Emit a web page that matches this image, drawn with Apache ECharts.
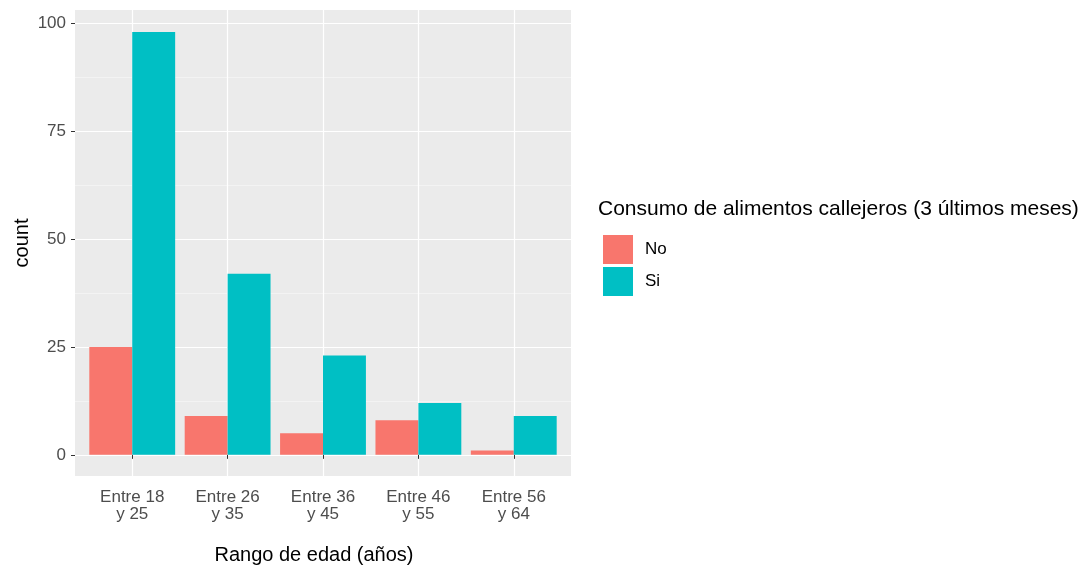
<!DOCTYPE html>
<html>
<head>
<meta charset="utf-8">
<script src="https://cdn.jsdelivr.net/npm/echarts@6/dist/echarts.min.js"></script>
<style>
html,body{margin:0;padding:0;background:#fff;}
#chart{width:1086px;height:570px;}
</style>
</head>
<body>
<div id="chart"></div>
<script>
const categories = ["Entre 18\ny 25", "Entre 26\ny 35", "Entre 36\ny 45", "Entre 46\ny 55", "Entre 56\ny 64"];
const seriesNames = ["No", "Si"];
const valuesNo = [25, 9, 5, 8, 1];
const valuesSi = [98, 42, 23, 12, 9];
const yTicks = [0, 25, 50, 75, 100];
const yMinorTicks = [12.5, 37.5, 62.5, 87.5];
const colors = ["#F8766D", "#00BFC4"];

const xPositions = categories.map((c, i) => i + 1);
const FONT = "Liberation Sans, Arial, sans-serif";

function makeRender(offset) {
  return function (params, api) {
    const x = api.value(0), y = api.value(1);
    const p0 = api.coord([x + offset, y]);
    const p1 = api.coord([x + offset + 0.45, 0]);
    return {
      type: 'rect',
      shape: { x: p0[0], y: p0[1], width: p1[0] - p0[0], height: p1[1] - p0[1] },
      style: { fill: api.visual('color') }
    };
  };
}

const chart = echarts.init(document.getElementById('chart'), null, { renderer: 'canvas' });
chart.setOption({
  backgroundColor: '#ffffff',
  animation: false,
  textStyle: { fontFamily: FONT },
  title: {
    text: 'Consumo de alimentos callejeros (3 últimos meses)',
    left: 593, top: 194,
    textStyle: { fontFamily: FONT, fontSize: 21, fontWeight: 'normal', color: '#000' }
  },
  legend: {
    orient: 'vertical',
    left: 603, top: 235, padding: 0,
    itemWidth: 30, itemHeight: 29, itemGap: 3,
    icon: 'rect',
    data: seriesNames,
    textStyle: { fontFamily: FONT, fontSize: 17, color: '#000', padding: [0, 0, 0, 7] }
  },
  grid: { left: 75, top: 10, width: 496, height: 467, show: true, backgroundColor: '#EBEBEB', borderWidth: 0 },
  xAxis: {
    type: 'value', min: 0.4, max: 5.6,
    axisLine: { show: false },
    axisTick: { show: true, length: 4, lineStyle: { color: '#333', width: 1 }, customValues: xPositions },
    axisLabel: {
      customValues: xPositions, color: '#4D4D4D', fontSize: 17, lineHeight: 17, margin: 13,
      formatter: v => categories[Math.round(v) - 1]
    },
    splitLine: { show: true, lineStyle: { color: '#ffffff', width: 1.2 } },
    name: 'Rango de edad (años)', nameLocation: 'middle', nameGap: 69,
    nameTextStyle: { fontSize: 20, color: '#000', padding: [0, 18, 0, 0] }
  },
  yAxis: [{
    type: 'value', min: -4.9, max: 103.1,
    axisLine: { show: false },
    axisTick: { show: true, length: 4, lineStyle: { color: '#333', width: 1 }, customValues: yTicks },
    axisLabel: { customValues: yTicks, color: '#4D4D4D', fontSize: 17, margin: 9 },
    splitLine: { show: true, lineStyle: { color: '#ffffff', width: 1.2 } },
    name: 'count', nameLocation: 'middle', nameGap: 43, nameRotate: 90,
    nameTextStyle: { fontSize: 20, color: '#000' }
  }, {
    type: 'value', min: -4.9, max: 103.1, position: 'left',
    axisLine: { show: false },
    axisTick: { show: false, customValues: yMinorTicks },
    axisLabel: { show: false, customValues: yMinorTicks },
    splitLine: { show: true, lineStyle: { color: '#F7F7F7', width: 0.7 } }
  }],
  series: [
    {
      name: seriesNames[0], type: 'custom', renderItem: makeRender(-0.45),
      itemStyle: { color: colors[0] },
      data: valuesNo.map((v, i) => [xPositions[i], v]), z: 3
    },
    {
      name: seriesNames[1], type: 'custom', renderItem: makeRender(0),
      itemStyle: { color: colors[1] },
      data: valuesSi.map((v, i) => [xPositions[i], v]), z: 3
    }
  ]
});
</script>
</body>
</html>
